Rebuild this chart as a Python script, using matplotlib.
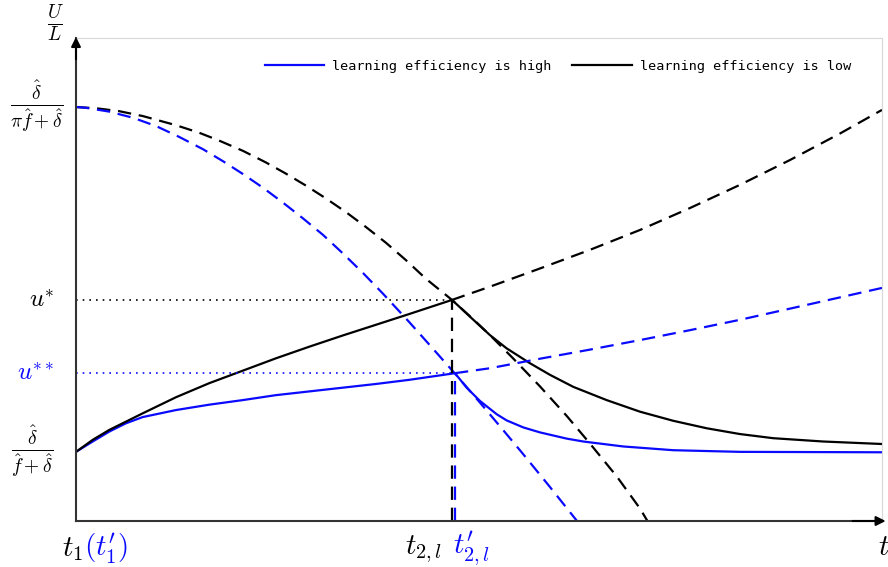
import matplotlib
matplotlib.use("Agg")
import matplotlib.pyplot as plt

plt.rcParams['mathtext.fontset'] = 'cm'

# key levels / times (axis units: t in 0..10, U/L scaled so top level = 1)
t2_low = 4.665
t2_high = 4.702
u_star = 0.534
u_star2 = 0.357
u_top = 1.0
u_base = 0.167

# dashed, decreasing (low efficiency = black, high = blue)
low_down_t = [0, 0.248, 0.534, 0.831, 1.241, 1.526, 1.774, 2.072, 2.357, 2.605, 2.854, 3.102,
              3.350, 3.598, 3.846, 4.094, 4.342, 4.665, 4.93, 5.136, 5.422, 5.757, 6.092,
              6.377, 6.712, 6.998, 7.09]
low_down_u = [1.0, 0.997, 0.990, 0.978, 0.956, 0.938, 0.919, 0.894, 0.866, 0.839, 0.810, 0.779,
              0.746, 0.710, 0.672, 0.630, 0.585, 0.534, 0.487, 0.449, 0.393, 0.325, 0.253,
              0.187, 0.107, 0.030, 0.0]
high_down_t = [0, 0.124, 0.409, 0.707, 0.993, 1.278, 1.576, 1.824, 2.072, 2.320, 2.568, 2.816,
               3.065, 3.313, 3.561, 3.809, 4.132, 4.402, 4.702, 5.012, 5.298, 5.546, 5.881, 6.216]
high_down_u = [1.0, 0.998, 0.989, 0.974, 0.954, 0.928, 0.898, 0.869, 0.838, 0.805, 0.769, 0.731,
               0.691, 0.646, 0.599, 0.549, 0.481, 0.422, 0.356, 0.286, 0.220, 0.162, 0.082, 0.0]

# dashed, increasing after the switch
low_up_t = [4.665, 5.136, 5.757, 6.377, 6.998, 7.618, 8.238, 8.859, 9.479, 10.0]
low_up_u = [0.534, 0.566, 0.610, 0.655, 0.703, 0.756, 0.812, 0.872, 0.936, 0.993]
high_up_t = [4.702, 5.136, 5.757, 6.377, 6.998, 7.618, 8.238, 9.066, 10.0]
high_up_u = [0.357, 0.369, 0.392, 0.414, 0.437, 0.461, 0.486, 0.522, 0.563]

# solid paths
low_solid_t = [0, 0.207, 0.413, 0.620, 0.827, 1.241, 1.654, 2.068, 2.481, 2.894, 3.308, 3.722,
               4.135, 4.665, 4.93, 5.136, 5.343, 5.633, 5.881, 6.170, 6.584, 6.998, 7.411,
               7.825, 8.238, 8.651, 9.271, 10.0]
low_solid_u = [0.167, 0.196, 0.220, 0.240, 0.260, 0.299, 0.333, 0.363, 0.393, 0.421, 0.448, 0.474,
               0.500, 0.534, 0.486, 0.449, 0.417, 0.381, 0.353, 0.324, 0.292, 0.264, 0.242,
               0.224, 0.210, 0.200, 0.192, 0.186]
high_solid_t = [0, 0.207, 0.413, 0.620, 0.827, 1.241, 1.654, 2.068, 2.481, 2.894, 3.308, 3.722,
                4.135, 4.702, 4.847, 5.012, 5.219, 5.343, 5.550, 5.757, 6.088, 6.294, 6.791,
                7.411, 8.238, 10.0]
high_solid_u = [0.167, 0.192, 0.216, 0.236, 0.251, 0.268, 0.281, 0.292, 0.304, 0.313, 0.322, 0.331,
                0.341, 0.357, 0.322, 0.290, 0.258, 0.243, 0.226, 0.214, 0.199, 0.192, 0.180,
                0.171, 0.167, 0.166]

blue = '#0a0aff'
dash = (6, 3.5)

fig = plt.figure(figsize=(8.88, 5.67), dpi=100)
ax = fig.add_axes([76 / 888, 46 / 567, 806 / 888, 483 / 567])
ax.set_xlim(0, 10)
ax.set_ylim(0, 483 / 414)

ax.plot(high_solid_t, high_solid_u, color=blue, lw=1.6, label='learning efficiency is high')
ax.plot(low_solid_t, low_solid_u, color='black', lw=1.6, label='learning efficiency is low')
ax.plot(low_down_t, low_down_u, color='black', lw=1.6, dashes=dash)
ax.plot(high_down_t, high_down_u, color=blue, lw=1.6, dashes=dash)
ax.plot(low_up_t, low_up_u, color='black', lw=1.6, dashes=dash)
ax.plot(high_up_t, high_up_u, color=blue, lw=1.6, dashes=dash)

ax.plot([0, t2_low], [u_star, u_star], color='black', lw=1.2, ls=(0, (1, 3)))
ax.plot([0, t2_high], [u_star2, u_star2], color=blue, lw=1.2, ls=(0, (1, 3)))
ax.plot([t2_low, t2_low], [0, u_star], color='black', lw=1.6, dashes=dash)
ax.plot([t2_high, t2_high], [0, u_star2], color=blue, lw=1.6, dashes=dash)

for s in ['top', 'right']:
    ax.spines[s].set_color('#d8d8d8')
    ax.spines[s].set_linewidth(0.8)
for s in ['left', 'bottom']:
    ax.spines[s].set_color('#333333')
    ax.spines[s].set_linewidth(1.5)
ax.set_xticks([])
ax.set_yticks([])

# axis arrows
ax.annotate('', xy=(0, 1.008), xytext=(0, 0.95), xycoords='axes fraction',
            arrowprops=dict(arrowstyle='-|>', color='black', lw=1.5, mutation_scale=14))
ax.annotate('', xy=(1.008, 0), xytext=(0.96, 0), xycoords='axes fraction',
            arrowprops=dict(arrowstyle='-|>', color='black', lw=1.5, mutation_scale=14))

# y labels
ax.text(-0.26, 1.203, r'$\frac{U}{L}$', fontsize=20, ha='center', va='center', clip_on=False)
ax.text(-0.49, u_top, r'$\frac{\hat{\delta}}{\pi\hat{f}+\hat{\delta}}$', fontsize=20,
        ha='center', va='center', clip_on=False)
ax.text(-0.27, u_star, r'$u^{*}$', fontsize=18, ha='right', va='center', clip_on=False)
ax.text(-0.27, u_star2, r'$u^{**}$', fontsize=18, ha='right', va='center', color=blue, clip_on=False)
ax.text(-0.55, u_base, r'$\frac{\hat{\delta}}{\hat{f}+\hat{\delta}}$', fontsize=20,
        ha='center', va='center', clip_on=False)

# x labels
ax.text(-0.17, -0.068, r'$t_1$', fontsize=21, ha='left', va='center', clip_on=False)
ax.text(0.10, -0.068, r"$(t_1')$", fontsize=21, ha='left', va='center', color=blue, clip_on=False)
ax.text(4.31, -0.068, r'$t_{2,l}$', fontsize=21, ha='center', va='center', clip_on=False)
ax.text(4.91, -0.068, r"$t_{2,l}'$", fontsize=21, ha='center', va='center', color=blue, clip_on=False)
ax.text(9.95, -0.062, r'$t$', fontsize=21, ha='left', va='center', clip_on=False)

leg = ax.legend(loc='center right', ncol=2, frameon=False, bbox_to_anchor=(0.9615, 0.942),
                prop={'family': 'DejaVu Sans Mono', 'size': 9.7}, handlelength=4.4,
                columnspacing=1.55, handletextpad=0.6, borderaxespad=0, borderpad=0)

fig.savefig('out.png', dpi=100)
